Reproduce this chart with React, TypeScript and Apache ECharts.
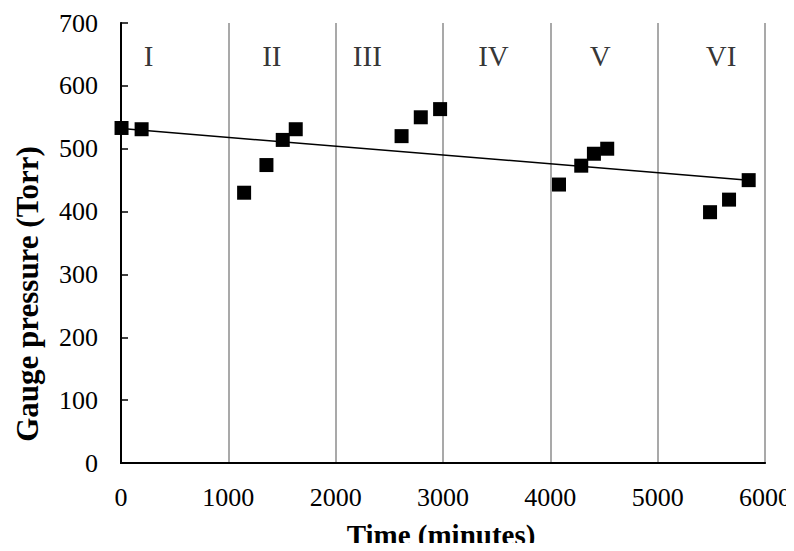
import React, { useEffect, useRef } from "react";
import * as echarts from "echarts";

const timeMinutes = [5, 192, 1147, 1355, 1507, 1628, 2614, 2793, 2973, 4081, 4288, 4406, 4530, 5488, 5665, 5848];
const pressureTorr = [533, 531, 430, 474, 514, 531, 520, 550, 563, 443, 473, 492, 500, 399, 419, 450];

const trendTime = [5, 5848];
const trendPressure = [532, 450];

const regionNames = ["I", "II", "III", "IV", "V", "VI"];
const regionTime = [257, 1405, 2295, 3470, 4465, 5590];
const regionPressure = [647, 647, 647, 647, 647, 647];

const xTicks = [0, 1000, 2000, 3000, 4000, 5000, 6000];
const yTicks = [0, 100, 200, 300, 400, 500, 600, 700];

const xTitle = "Time (minutes)";
const yTitle = "Gauge pressure (Torr)";

const FONT = "'Liberation Serif', 'Times New Roman', serif";

export default function App() {
  const ref = useRef<HTMLDivElement>(null);
  useEffect(() => {
    if (!ref.current) return;
    const chart = echarts.init(ref.current, undefined, { renderer: "svg" });
    const xMin = xTicks[0];
    const xMax = xTicks[xTicks.length - 1];
    const yMin = yTicks[0];
    const yMax = yTicks[yTicks.length - 1];
    chart.setOption({
      animation: false,
      backgroundColor: "#ffffff",
      textStyle: { fontFamily: FONT },
      grid: { left: 121, right: 29, top: 23, bottom: 88, outerBoundsMode: "none", containLabel: false },
      graphic: [
        {
          type: "text",
          x: 27,
          y: 294,
          rotation: Math.PI / 2,
          style: {
            text: yTitle,
            font: `bold 31px ${FONT}`,
            fill: "#000",
            align: "center",
            verticalAlign: "middle",
          },
        },
        {
          type: "text",
          x: 441,
          y: 535,
          style: {
            text: xTitle,
            font: `bold 29px ${FONT}`,
            fill: "#000",
            align: "center",
            verticalAlign: "middle",
          },
        },
      ],
      xAxis: [
        {
          type: "value",
          min: xMin,
          max: xMax,
          interval: 1000,
          axisLine: { show: true, lineStyle: { color: "#000", width: 2 } },
          axisTick: { show: false },
          axisLabel: {
            color: "#000",
            fontSize: 26,
            fontFamily: FONT,
            margin: 21,
            formatter: (v: number) => String(v),
          },
          splitLine: { show: true, lineStyle: { color: "#8c8c8c", width: 1.5 } },
        },
        {
          type: "value",
          position: "top",
          min: xMin,
          max: xMax,
          interval: 1000,
          axisLine: { show: true, lineStyle: { color: "#000", width: 1.5 } },
          axisTick: { show: false },
          axisLabel: { show: false },
          splitLine: { show: false },
        },
      ],
      yAxis: [
        {
          type: "value",
          min: yMin,
          max: yMax,
          interval: 100,
          axisLine: { show: true, lineStyle: { color: "#000", width: 2 } },
          axisTick: { show: true, inside: true, length: 7, lineStyle: { color: "#000", width: 1.5 } },
          axisLabel: { color: "#000", fontSize: 26, fontFamily: FONT, margin: 23 },
          splitLine: { show: false },
        },
        {
          type: "value",
          position: "right",
          min: yMin,
          max: yMax,
          interval: 100,
          axisLine: { show: true, lineStyle: { color: "#000", width: 1.5 } },
          axisTick: { show: false },
          axisLabel: { show: false },
          splitLine: { show: false },
        },
      ],
      series: [
        {
          type: "line",
          data: trendTime.map((t, i) => [t, trendPressure[i]]),
          showSymbol: false,
          symbol: "none",
          lineStyle: { color: "#000", width: 1.5 },
          z: 2,
        },
        {
          type: "scatter",
          data: timeMinutes.map((t, i) => [t, pressureTorr[i]]),
          symbol: "rect",
          symbolSize: 14,
          itemStyle: { color: "#000", opacity: 1 },
          z: 3,
        },
        {
          type: "scatter",
          data: regionNames.map((n, i) => ({ name: n, value: [regionTime[i], regionPressure[i]] })),
          symbolSize: 0,
          silent: true,
          label: {
            show: true,
            position: "inside",
            formatter: (p: any) => p.name,
            color: "#000",
            fontSize: 29,
            fontFamily: FONT,
          },
          z: 4,
        },
      ],
    });
    return () => chart.dispose();
  }, []);
  return <div ref={ref} style={{ width: 794, height: 551, margin: -8 }} />;
}
